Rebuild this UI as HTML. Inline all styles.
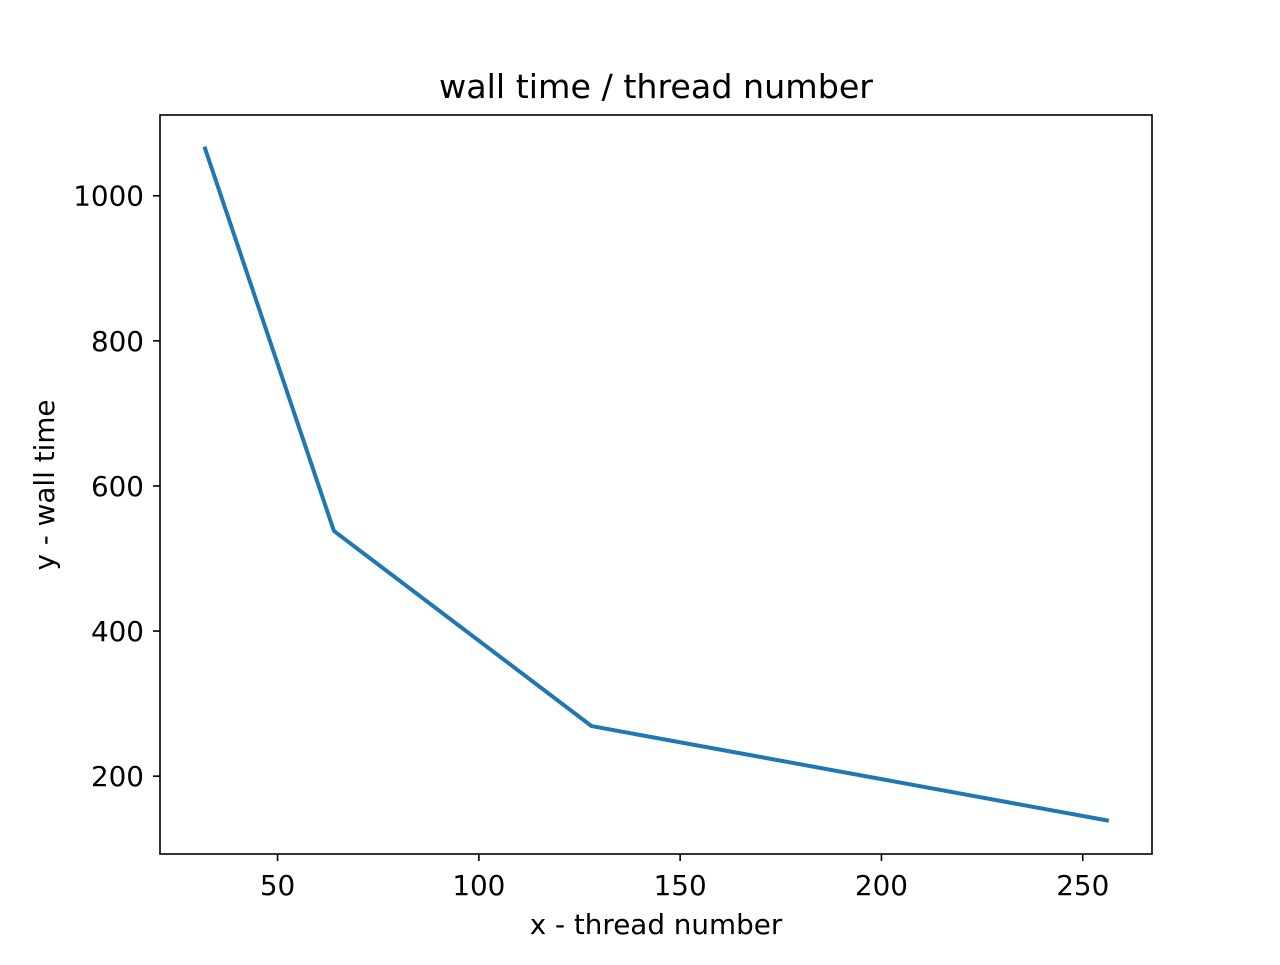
<!DOCTYPE html>
<html><head><meta charset="utf-8"><style>
html,body{margin:0;padding:0;background:#fff;}
svg text{font-family:"DejaVu Sans","Liberation Sans",sans-serif;fill:#000;}
</style></head><body>
<svg id="chart" width="1280" height="960" xmlns="http://www.w3.org/2000/svg">
<rect width="1280" height="960" fill="#fff"/>
<g id="g"></g>
</svg>
<script>
const threads = [32, 64, 128, 256];
const wallTimes = [1065, 538, 269, 139];
const xTicks = [50, 100, 150, 200, 250];
const yTicks = [200, 400, 600, 800, 1000];

const L=160,R=1152,T=115,B=854;
const xMin=20.8,xMax=267.2,yMin=92.7,yMax=1111.3;
const sx=v=>L+(v-xMin)/(xMax-xMin)*(R-L);
const sy=v=>B-(v-yMin)/(yMax-yMin)*(B-T);
const NS='http://www.w3.org/2000/svg';
const g=document.getElementById('g');
function mk(tag,attrs,text){const e=document.createElementNS(NS,tag);for(const k in attrs)e.setAttribute(k,attrs[k]);if(text!==undefined)e.textContent=text;g.appendChild(e);return e;}

const pts=threads.map((x,i)=>sx(x)+','+sy(wallTimes[i])).join(' ');
const line=mk('polyline',{points:pts,fill:'none',stroke:'#1f77b4','stroke-width':4,'stroke-linecap':'square','stroke-linejoin':'round'});



xTicks.forEach(v=>{
  const x=sx(v);
  const t=mk('line',{x1:x,x2:x,y1:B,y2:B+7,stroke:'#000','stroke-width':1.6});
  
  
  const l=mk('text',{x:x,y:B+41,'text-anchor':'middle','font-size':27.8},String(v));
  
  
});
yTicks.forEach(v=>{
  const y=sy(v);
  const t=mk('line',{x1:L-7,x2:L,y1:y,y2:y,stroke:'#000','stroke-width':1.6});
  
  
  const l=mk('text',{x:L-16,y:y+10,'text-anchor':'end','font-size':27.8},String(v));
  
  
});
const frame=mk('rect',{x:L,y:T,width:R-L,height:B-T,fill:'none',stroke:'#000','stroke-width':1.6});


const title=mk('text',{x:(L+R)/2,y:98,'text-anchor':'middle','font-size':33.3},'wall time / thread number');


const xl=mk('text',{x:(L+R)/2,y:934,'text-anchor':'middle','font-size':27.8},'x - thread number');


const yl=mk('text',{x:0,y:0,'text-anchor':'middle','font-size':27.8,transform:'translate(54,485) rotate(-90)'},'y - wall time');


</script>
</body></html>
